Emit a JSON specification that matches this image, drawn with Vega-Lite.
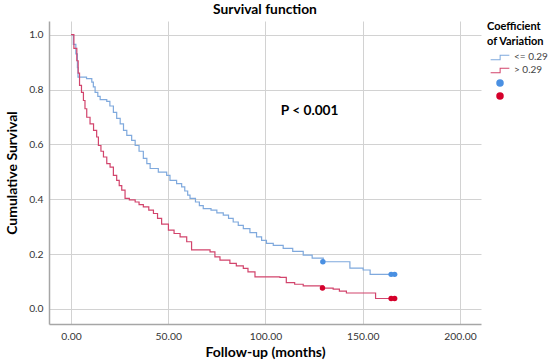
{
  "$schema": "https://vega.github.io/schema/vega-lite/v6.json",
  "width": 432,
  "height": 303,
  "padding": {"left": 5, "top": 3, "right": 2, "bottom": 2},
  "title": {"text": "Survival function", "fontSize": 13.8, "fontWeight": "bold", "font": "Lato", "anchor": "middle", "offset": 4, "color": "#000"},
  "datasets": {
    "curves": [
      {"t":0,"s":1.0,"grp":"<= 0.29"},{"t":1.2,"s":0.965,"grp":"<= 0.29"},{"t":2.5,"s":0.93,"grp":"<= 0.29"},{"t":3.3,"s":0.88,"grp":"<= 0.29"},{"t":3.6,"s":0.845,"grp":"<= 0.29"},{"t":6.1,"s":0.845,"grp":"<= 0.29"},{"t":8,"s":0.84,"grp":"<= 0.29"},{"t":10.7,"s":0.827,"grp":"<= 0.29"},{"t":11.5,"s":0.81,"grp":"<= 0.29"},{"t":12.4,"s":0.79,"grp":"<= 0.29"},{"t":13.8,"s":0.775,"grp":"<= 0.29"},{"t":15.0,"s":0.763,"grp":"<= 0.29"},{"t":18.4,"s":0.757,"grp":"<= 0.29"},{"t":20,"s":0.74,"grp":"<= 0.29"},{"t":21.8,"s":0.717,"grp":"<= 0.29"},{"t":23.5,"s":0.695,"grp":"<= 0.29"},{"t":25.3,"s":0.675,"grp":"<= 0.29"},{"t":27.0,"s":0.651,"grp":"<= 0.29"},{"t":28.7,"s":0.633,"grp":"<= 0.29"},{"t":31.2,"s":0.615,"grp":"<= 0.29"},{"t":33.0,"s":0.596,"grp":"<= 0.29"},{"t":35,"s":0.575,"grp":"<= 0.29"},{"t":37.2,"s":0.549,"grp":"<= 0.29"},{"t":39,"s":0.53,"grp":"<= 0.29"},{"t":40.7,"s":0.512,"grp":"<= 0.29"},{"t":44.9,"s":0.499,"grp":"<= 0.29"},{"t":49.2,"s":0.487,"grp":"<= 0.29"},{"t":50.9,"s":0.469,"grp":"<= 0.29"},{"t":54.3,"s":0.457,"grp":"<= 0.29"},{"t":56.9,"s":0.445,"grp":"<= 0.29"},{"t":58.5,"s":0.43,"grp":"<= 0.29"},{"t":60,"s":0.415,"grp":"<= 0.29"},{"t":61.2,"s":0.403,"grp":"<= 0.29"},{"t":64,"s":0.39,"grp":"<= 0.29"},{"t":66,"s":0.377,"grp":"<= 0.29"},{"t":68.0,"s":0.366,"grp":"<= 0.29"},{"t":72,"s":0.36,"grp":"<= 0.29"},{"t":75,"s":0.35,"grp":"<= 0.29"},{"t":78.3,"s":0.342,"grp":"<= 0.29"},{"t":81,"s":0.33,"grp":"<= 0.29"},{"t":83.4,"s":0.317,"grp":"<= 0.29"},{"t":86,"s":0.305,"grp":"<= 0.29"},{"t":88.6,"s":0.293,"grp":"<= 0.29"},{"t":92,"s":0.278,"grp":"<= 0.29"},{"t":95.4,"s":0.263,"grp":"<= 0.29"},{"t":98,"s":0.25,"grp":"<= 0.29"},{"t":100.5,"s":0.239,"grp":"<= 0.29"},{"t":104,"s":0.232,"grp":"<= 0.29"},{"t":109.1,"s":0.221,"grp":"<= 0.29"},{"t":114,"s":0.21,"grp":"<= 0.29"},{"t":119.4,"s":0.196,"grp":"<= 0.29"},{"t":124,"s":0.185,"grp":"<= 0.29"},{"t":129.7,"s":0.172,"grp":"<= 0.29"},{"t":142.5,"s":0.172,"grp":"<= 0.29"},{"t":143.4,"s":0.149,"grp":"<= 0.29"},{"t":150.2,"s":0.142,"grp":"<= 0.29"},{"t":153.8,"s":0.126,"grp":"<= 0.29"},{"t":166.1,"s":0.126,"grp":"<= 0.29"},
      {"t":0,"s":1.0,"grp":"> 0.29"},{"t":1.5,"s":0.95,"grp":"> 0.29"},{"t":3.0,"s":0.905,"grp":"> 0.29"},{"t":3.7,"s":0.86,"grp":"> 0.29"},{"t":4.4,"s":0.815,"grp":"> 0.29"},{"t":5.4,"s":0.79,"grp":"> 0.29"},{"t":6.4,"s":0.76,"grp":"> 0.29"},{"t":7.2,"s":0.73,"grp":"> 0.29"},{"t":8.1,"s":0.699,"grp":"> 0.29"},{"t":9.8,"s":0.675,"grp":"> 0.29"},{"t":11.6,"s":0.651,"grp":"> 0.29"},{"t":13.2,"s":0.627,"grp":"> 0.29"},{"t":14.1,"s":0.596,"grp":"> 0.29"},{"t":15.4,"s":0.575,"grp":"> 0.29"},{"t":16.7,"s":0.554,"grp":"> 0.29"},{"t":18.4,"s":0.53,"grp":"> 0.29"},{"t":20.1,"s":0.517,"grp":"> 0.29"},{"t":21.8,"s":0.487,"grp":"> 0.29"},{"t":23.5,"s":0.469,"grp":"> 0.29"},{"t":24.8,"s":0.45,"grp":"> 0.29"},{"t":26.1,"s":0.433,"grp":"> 0.29"},{"t":27.8,"s":0.403,"grp":"> 0.29"},{"t":30,"s":0.398,"grp":"> 0.29"},{"t":33.0,"s":0.39,"grp":"> 0.29"},{"t":35,"s":0.38,"grp":"> 0.29"},{"t":37.2,"s":0.372,"grp":"> 0.29"},{"t":40,"s":0.36,"grp":"> 0.29"},{"t":42.4,"s":0.348,"grp":"> 0.29"},{"t":44.5,"s":0.33,"grp":"> 0.29"},{"t":46.6,"s":0.309,"grp":"> 0.29"},{"t":50.1,"s":0.287,"grp":"> 0.29"},{"t":53,"s":0.275,"grp":"> 0.29"},{"t":56.1,"s":0.263,"grp":"> 0.29"},{"t":59.5,"s":0.245,"grp":"> 0.29"},{"t":62.0,"s":0.215,"grp":"> 0.29"},{"t":71.5,"s":0.208,"grp":"> 0.29"},{"t":74,"s":0.19,"grp":"> 0.29"},{"t":76.6,"s":0.178,"grp":"> 0.29"},{"t":81.7,"s":0.166,"grp":"> 0.29"},{"t":85,"s":0.157,"grp":"> 0.29"},{"t":88.6,"s":0.148,"grp":"> 0.29"},{"t":91,"s":0.135,"grp":"> 0.29"},{"t":94.6,"s":0.117,"grp":"> 0.29"},{"t":107.4,"s":0.115,"grp":"> 0.29"},{"t":110.7,"s":0.096,"grp":"> 0.29"},{"t":115,"s":0.09,"grp":"> 0.29"},{"t":119.4,"s":0.084,"grp":"> 0.29"},{"t":129.7,"s":0.076,"grp":"> 0.29"},{"t":134.8,"s":0.072,"grp":"> 0.29"},{"t":138,"s":0.065,"grp":"> 0.29"},{"t":141.6,"s":0.058,"grp":"> 0.29"},{"t":155.3,"s":0.058,"grp":"> 0.29"},{"t":156.6,"s":0.038,"grp":"> 0.29"},{"t":166.4,"s":0.038,"grp":"> 0.29"}
    ],
    "censored": [
      {"t":129.5,"s":0.172,"key":"c1"},{"t":164.6,"s":0.126,"key":"c1"},{"t":166.4,"s":0.126,"key":"c1"},
      {"t":129.3,"s":0.076,"key":"c2"},{"t":164.6,"s":0.038,"key":"c2"},{"t":166.4,"s":0.038,"key":"c2"}
    ],
    "note": [{"t":122.7,"s":0.72,"label":"P < 0.001"}]
  },
  "layer": [
    {
      "data": {"name": "curves"},
      "mark": {"type": "line", "interpolate": "step-after", "strokeWidth": 1.2},
      "encoding": {
        "x": {"field": "t", "type": "quantitative", "scale": {"domain": [-11.3, 210.8], "nice": false, "zero": false},
              "axis": {"values": [0, 50, 100, 150, 200], "format": ".2f", "title": "Follow-up (months)"}},
        "y": {"field": "s", "type": "quantitative", "scale": {"domain": [-0.055, 1.05], "nice": false, "zero": false},
              "axis": {"values": [0, 0.2, 0.4, 0.6, 0.8, 1.0], "format": ".1f", "title": "Cumulative Survival"}},
        "stroke": {"field": "grp", "type": "nominal", "scale": {"domain": ["<= 0.29", "> 0.29"], "range": ["#7fa9dd", "#d2446c"]}, "legend": null},
        "detail": {"field": "grp"}
      }
    },
    {
      "data": {"name": "censored"},
      "mark": {"type": "point", "filled": true, "size": 30, "opacity": 1},
      "encoding": {
        "x": {"field": "t", "type": "quantitative"},
        "y": {"field": "s", "type": "quantitative"},
        "fill": {"field": "key", "type": "nominal",
                 "scale": {"domain": ["<= 0.29", "> 0.29", "c1", "c2"], "range": ["#7fa9dd", "#d2446c", "#4a90e2", "#d5002b"]},
                 "legend": {"title": ["Coefficient", "of Variation"], "labelExpr": "datum.label == 'c1' || datum.label == 'c2' ? '' : datum.label"}},
        "shape": {"field": "key", "type": "nominal",
                  "scale": {"domain": ["<= 0.29", "> 0.29", "c1", "c2"],
                            "range": ["M-2.5,0.6L-0.1,0.6L-0.1,-0.6L2.5,-0.6L2.5,-0.35L0.17,-0.35L0.17,0.85L-2.5,0.85Z", "M-2.5,0.6L-0.1,0.6L-0.1,-0.6L2.5,-0.6L2.5,-0.35L0.17,-0.35L0.17,0.85L-2.5,0.85Z", "circle", "circle"]},
                  "legend": {"title": ["Coefficient", "of Variation"], "labelExpr": "datum.label == 'c1' || datum.label == 'c2' ? '' : datum.label"}}
      }
    },
    {
      "data": {"name": "note"},
      "mark": {"type": "text", "font": "Lato", "fontSize": 13.7, "fontWeight": "bold", "color": "#000"},
      "encoding": {
        "x": {"field": "t", "type": "quantitative"},
        "y": {"field": "s", "type": "quantitative"},
        "text": {"field": "label"}
      }
    }
  ],
  "config": {
    "font": "Lato",
    "view": {"stroke": null},
    "axis": {
      "grid": true, "gridColor": "#d2d2d2", "gridWidth": 1,
      "domainColor": "#a6a6a6", "domainWidth": 1.5,
      "ticks": false, "labelPadding": 6,
      "labelFont": "Lato", "labelFontSize": 10.3, "labelColor": "#333",
      "titleFont": "Lato", "titleFontSize": 14, "titleFontWeight": "bold", "titleColor": "#000"
    },
    "axisX": {"labelPadding": 7, "titlePadding": 4},
    "axisY": {"titlePadding": 9},
    "legend": {
      "offset": 6, "padding": 0,
      "titleFont": "Lato", "titleFontSize": 11, "titleFontWeight": "bold", "titleColor": "#000", "titleLineHeight": 15, "titlePadding": 5,
      "labelFont": "Lato", "labelFontSize": 10, "labelColor": "#444",
      "symbolSize": 56, "symbolStrokeWidth": 0, "symbolOffset": 8, "labelOffset": 9, "rowPadding": 3
    }
  }
}
